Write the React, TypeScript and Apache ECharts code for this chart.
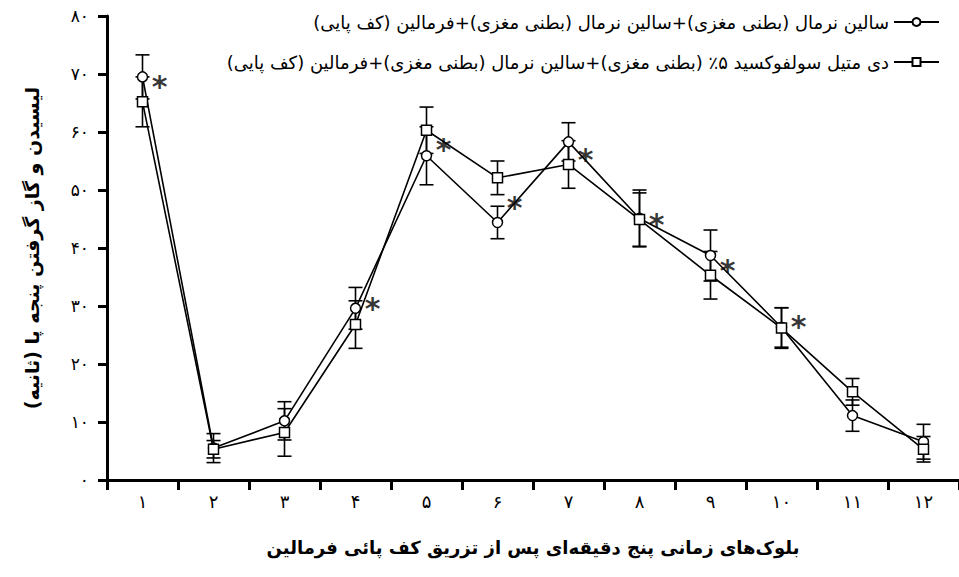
import React, { useEffect, useRef } from "react";
import * as echarts from "echarts";

const categories = ["۱", "۲", "۳", "۴", "۵", "۶", "۷", "۸", "۹", "۱۰", "۱۱", "۱۲"];
const yTickLabels = ["۰", "۱۰", "۲۰", "۳۰", "۴۰", "۵۰", "۶۰", "۷۰", "۸۰"];

const salineName = "سالین نرمال (بطنی مغزی)+سالین نرمال (بطنی مغزی)+فرمالین (کف پایی)";
const dmsoName = "دی متیل سولفوکسید ۵٪ (بطنی مغزی)+سالین نرمال (بطنی مغزی)+فرمالین (کف پایی)";
const xAxisTitle = "بلوک‌های زمانی پنج دقیقه‌ای پس از تزریق کف پائی فرمالین";
const yAxisTitle = "لیسیدن و گاز گرفتن پنجه پا (ثانیه)";

const salineMean = [69.5, 5.5, 10.2, 29.6, 55.9, 44.4, 58.3, 45.1, 38.7, 26.3, 11.1, 6.6];
const salineErr = [3.8, 2.5, 3.3, 3.6, 5.0, 2.8, 3.3, 4.9, 4.4, 3.4, 2.7, 3.0];
const dmsoMean = [65.2, 5.3, 8.2, 26.8, 60.3, 52.1, 54.4, 44.9, 35.3, 26.2, 15.2, 5.3];
const dmsoErr = [4.3, 1.5, 4.1, 4.1, 4.0, 2.9, 4.1, 4.6, 4.1, 3.5, 2.3, 2.2];
const asteriskValues: (number | null)[] = [69.3, null, null, 31.0, 58.3, 48.3, 56.6, 45.4, 37.5, 27.9, null, null];

const RLM = "\u200F";
const FONT = "DejaVu Sans";

function errorSeries(mean: number[], err: number[]) {
  return {
    type: "custom",
    silent: true,
    z: 1,
    encode: { x: 0, y: [1, 2] },
    data: mean.map((m, i) => [i, m - err[i], m + err[i]]),
    renderItem: (params: any, api: any) => {
      const x = api.value(0);
      const pLo = api.coord([x, api.value(1)]);
      const pHi = api.coord([x, api.value(2)]);
      const hw = 7;
      const st = { stroke: "#000", lineWidth: 1.6 };
      return {
        type: "group",
        children: [
          { type: "line", shape: { x1: pLo[0], y1: pLo[1], x2: pHi[0], y2: pHi[1] }, style: st },
          { type: "line", shape: { x1: pLo[0] - hw, y1: pLo[1], x2: pLo[0] + hw, y2: pLo[1] }, style: st },
          { type: "line", shape: { x1: pHi[0] - hw, y1: pHi[1], x2: pHi[0] + hw, y2: pHi[1] }, style: st },
        ],
      };
    },
  };
}

export default function App() {
  const ref = useRef<HTMLDivElement>(null);
  useEffect(() => {
    if (!ref.current) return;
    const chart = echarts.init(ref.current, undefined, { renderer: "svg" });
    chart.setOption({
      animation: false,
      backgroundColor: "#fff",
      textStyle: { fontFamily: FONT, color: "#000" },
      grid: { left: 107, top: 16, width: 858, height: 464 },
      legend: {
        orient: "vertical",
        right: 14,
        top: 8,
        align: "right",
        itemWidth: 45,
        itemHeight: 10,
        itemGap: 22,
        data: [salineName, dmsoName],
        formatter: (n: string) => RLM + n + RLM,
        textStyle: { fontFamily: FONT, fontSize: 18, color: "#000" },
      },
      xAxis: {
        type: "category",
        data: categories,
        boundaryGap: true,
        axisLine: { lineStyle: { color: "#000", width: 3 } },
        axisTick: { show: true, length: 10, lineStyle: { color: "#000", width: 3 } },
        axisLabel: { color: "#000", fontSize: 18, margin: 12, fontFamily: FONT },
        name: RLM + xAxisTitle + RLM,
        nameLocation: "middle",
        nameGap: 58,
        nameTextStyle: { fontSize: 18, fontWeight: "bold", color: "#000", fontFamily: FONT },
      },
      yAxis: {
        type: "value",
        min: 0,
        max: 80,
        interval: 10,
        splitLine: { show: false },
        axisLine: { show: true, lineStyle: { color: "#000", width: 3 } },
        axisTick: { show: true, length: 9, lineStyle: { color: "#000", width: 3 } },
        axisLabel: {
          color: "#000",
          fontSize: 17,
          margin: 18,
          fontFamily: FONT,
          formatter: (v: number) => yTickLabels[Math.round(v / 10)],
        },
        name: RLM + yAxisTitle + RLM,
        nameLocation: "middle",
        nameGap: 66,
        nameRotate: 90,
        nameTextStyle: { fontSize: 19, fontWeight: "bold", color: "#000", fontFamily: FONT },
      },
      series: [
        errorSeries(salineMean, salineErr),
        errorSeries(dmsoMean, dmsoErr),
        {
          name: salineName,
          type: "line",
          z: 3,
          data: salineMean,
          symbol: "circle",
          symbolSize: 10,
          lineStyle: { color: "#000", width: 1.6 },
          itemStyle: { color: "#fff", borderColor: "#000", borderWidth: 1.5 },
        },
        {
          name: dmsoName,
          type: "line",
          z: 4,
          data: dmsoMean,
          symbol: "rect",
          symbolSize: 10,
          lineStyle: { color: "#000", width: 1.6 },
          itemStyle: { color: "#fff", borderColor: "#000", borderWidth: 1.5 },
        },
        {
          type: "scatter",
          z: 5,
          silent: true,
          symbolSize: 1,
          itemStyle: { color: "rgba(0,0,0,0)" },
          data: asteriskValues.map((v, i) => (v === null ? null : [i, v])).filter((d) => d !== null),
          label: {
            show: true,
            position: "inside",
            offset: [17, 8],
            formatter: "*",
            fontSize: 30,
            fontWeight: "bold",
            fontFamily: "DejaVu Sans",
            color: "#000",
          },
        },
      ],
    });
    return () => chart.dispose();
  }, []);
  return <div ref={ref} style={{ position: "absolute", left: 0, top: 0, width: 959, height: 577 }} />;
}
